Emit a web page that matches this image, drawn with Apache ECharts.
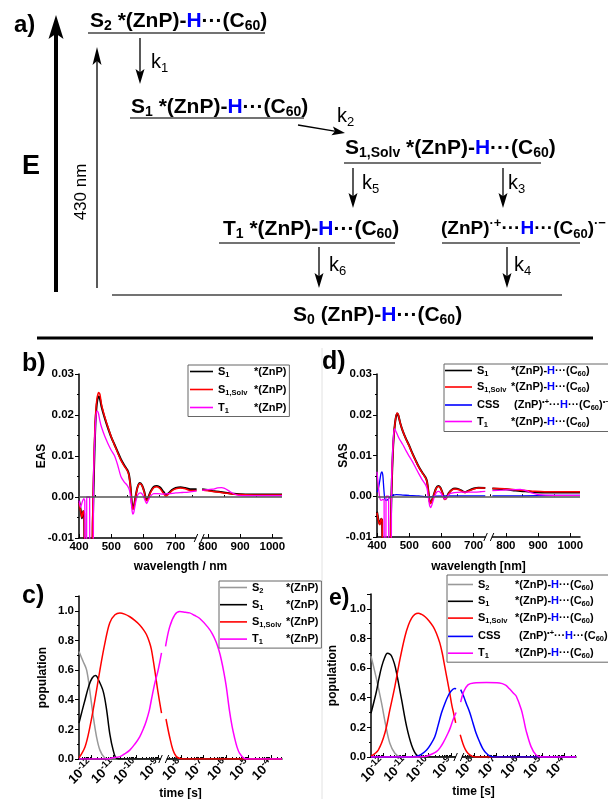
<!DOCTYPE html>
<html><head><meta charset="utf-8">
<script src="https://cdn.jsdelivr.net/npm/echarts@6/dist/echarts.min.js"></script>
<style>html,body{margin:0;padding:0;background:#fff}#c{width:608px;height:799px}</style>
</head><body><div id="c"></div>
<script>
const FONT = '"Liberation Sans", Arial, Helvetica, sans-serif';

// ===== a) energy diagram : schematic levels (x extent, schematic energy) =====
const levelKeys = ['S2','S1','S1S','T1','CSS','S0'];
const levelStart = [88,130,344,219,442,112];
const levelEnd = [265,304,541,395,580,562];
const levelEnergy = [307,222,177,97,97,45];
const arrowKeys = ['E','nm','k1','k2','k5','k3','k6','k4'];
const arrowStart = [[56,48],[97,52],[140,302],[298,215],[353,172],[503,172],[319,93],[507,93]];
const arrowEnd = [[56,325],[97,293],[140,256],[345,207],[353,132],[503,132],[319,52],[507,52]];

// ===== b) EAS  [wavelength nm, value] =====
const eas_S1 = [[400,-0.0008],[405,-0.003],[409,-0.0052],[413,-0.0035],[416,-0.004],[419,-0.02],[440,-0.02],[443,-0.006],[447,0.008],[451,0.018],[455,0.0225],[460,0.0245],[464,0.0243],[470,0.022],[480,0.0192],[490,0.0168],[500,0.0146],[510,0.0128],[520,0.011],[530,0.0092],[540,0.0078],[550,0.0066],[555,0.0055],[560,0.0025],[564,-0.0015],[567,-0.0028],[571,-0.002],[576,0.0003],[582,0.0025],[589,0.0034],[596,0.0028],[603,0.0012],[609,-0.0007],[614,-0.0003],[622,0.0013],[632,0.0025],[642,0.0027],[652,0.0023],[662,0.0013],[670,0.0006],[678,0.0009],[688,0.0017],[700,0.0022],[715,0.0024],[730,0.0022],[745,0.0019],[765,0.0019],[774,'-'],[782,0.0019],[800,0.0017],[820,0.0014],[840,0.0012],[860,0.001],[880,0.0008],[900,0.0007],[950,0.0006],[1030,0.0006]];
const eas_S1Solv = [[400,-0.0015],[404,-0.003],[409,-0.005],[413,-0.0035],[416,-0.004],[419,-0.02],[439,-0.02],[442,-0.006],[446,0.008],[450,0.018],[455,0.0235],[461,0.0255],[465,0.025],[470,0.0225],[480,0.0195],[490,0.017],[500,0.0147],[510,0.0127],[520,0.0108],[530,0.009],[540,0.0076],[550,0.0064],[555,0.0053],[560,0.0022],[564,-0.0018],[567,-0.003],[571,-0.0022],[576,0.0002],[582,0.0024],[589,0.0033],[596,0.0027],[603,0.001],[609,-0.0009],[614,-0.0005],[622,0.0011],[632,0.0023],[642,0.0025],[652,0.002],[662,0.0009],[670,0.0002],[678,0.0007],[688,0.0015],[700,0.002],[715,0.0022],[730,0.002],[745,0.0016],[765,0.0016],[774,'-'],[782,0.0017],[800,0.0015],[820,0.0013],[840,0.0011],[860,0.0009],[880,0.0007],[900,0.0006],[950,0.0005],[1030,0.0005]];
const eas_T1 = [[400,-0.0008],[405,-0.0025],[410,-0.0012],[415,-0.0004],[418,-0.001],[419,-0.03],[423,-0.03],[424,0],[433,0],[434,-0.03],[444,-0.03],[445,0.004],[448,0.012],[452,0.019],[456,0.021],[460,0.0205],[465,0.0185],[470,0.017],[480,0.0148],[490,0.013],[500,0.0114],[510,0.0101],[520,0.0078],[530,0.005],[540,0.0037],[550,0.0028],[556,0.0018],[561,-0.0005],[565,-0.0035],[567,-0.0042],[570,-0.0038],[576,-0.0012],[583,0.0006],[591,0.001],[598,0.0005],[604,-0.0006],[610,-0.0016],[615,-0.0008],[622,0.0002],[632,0.0008],[645,0.0008],[660,0.0007],[680,0.0008],[700,0.001],[720,0.0011],[740,0.0012],[765,0.0015],[774,'-'],[782,0.0016],[800,0.0018],[815,0.0019],[830,0.0022],[842,0.0023],[852,0.0021],[865,0.0015],[880,0.0008],[895,0.0004],[920,0.0003],[1030,0.0003]];
const easBreak = 773;

// ===== d) SAS =====
const sas_S1 = [[400,-0.0038],[405,-0.006],[409,-0.0068],[413,-0.0055],[416,-0.006],[418,-0.03],[440,-0.03],[443,-0.006],[447,0.006],[451,0.0135],[456,0.018],[462,0.0203],[466,0.0199],[472,0.018],[480,0.016],[490,0.0141],[500,0.0124],[510,0.0105],[520,0.0088],[530,0.0072],[540,0.0059],[550,0.0047],[555,0.0037],[559,0.0015],[563,-0.0011],[566,-0.0017],[570,-0.0011],[576,0.0003],[583,0.0019],[590,0.0025],[597,0.0021],[604,0.0007],[610,-0.0007],[615,-0.0004],[622,0.0007],[632,0.0016],[642,0.0019],[655,0.0017],[666,0.0012],[674,0.001],[684,0.0014],[700,0.0019],[715,0.0021],[736,0.002],[746,'-'],[758,0.0019],[780,0.0018],[800,0.0017],[830,0.0014],[860,0.0012],[890,0.001],[930,0.0009],[1030,0.0009]];
const sas_S1Solv = [[400,-0.004],[405,-0.0062],[409,-0.007],[413,-0.0055],[416,-0.006],[418,-0.03],[440,-0.03],[443,-0.006],[447,0.006],[451,0.0135],[456,0.018],[462,0.0204],[466,0.02],[472,0.018],[480,0.016],[490,0.014],[500,0.0123],[510,0.0104],[520,0.0087],[530,0.0071],[540,0.0058],[550,0.0046],[555,0.0036],[559,0.0014],[563,-0.0012],[566,-0.0018],[570,-0.0012],[576,0.0002],[583,0.0018],[590,0.0024],[597,0.002],[604,0.0006],[610,-0.0008],[615,-0.0005],[622,0.0006],[632,0.0015],[642,0.0018],[655,0.0016],[666,0.0011],[674,0.0009],[684,0.0013],[700,0.0018],[715,0.002],[736,0.002],[746,'-'],[758,0.0019],[780,0.0019],[800,0.0018],[830,0.0016],[860,0.0014],[890,0.0012],[920,0.0011],[960,0.0011],[1030,0.0011]];
const sas_CSS = [[400,0.001],[404,0.0018],[408,0.0035],[412,0.0055],[415,0.006],[418,0.0052],[421,0.002],[424,-0.0005],[428,-0.001],[434,-0.0008],[442,0],[450,0.0003],[460,0.0004],[480,0.0003],[500,0.0002],[530,0.0001],[560,-0.0002],[580,0],[620,0.0001],[680,0.0001],[736,0.0001],[746,'-'],[758,0.0001],[850,0.0001],[950,0.0002],[1030,0.0002]];
const sas_T1 = [[400,0.006],[403,0.0035],[406,0.0012],[409,-0.0005],[413,-0.001],[418,-0.0008],[422,-0.001],[423,-0.03],[427,-0.03],[428,0],[436,0],[437,-0.03],[444,-0.03],[445,0.003],[448,0.01],[452,0.0155],[455,0.0165],[460,0.0157],[465,0.0148],[470,0.014],[480,0.0127],[490,0.0112],[500,0.0098],[510,0.0085],[520,0.007],[530,0.0055],[540,0.0041],[550,0.0029],[555,0.002],[559,0.0],[563,-0.0022],[566,-0.0028],[570,-0.0022],[577,-0.0004],[585,0.001],[592,0.0012],[599,0.0007],[606,-0.0003],[611,-0.0007],[617,-0.0002],[626,0.0006],[640,0.0009],[660,0.001],[690,0.001],[720,0.0011],[736,0.0012],[746,'-'],[758,0.0014],[790,0.0015],[820,0.0016],[845,0.0017],[865,0.0013],[880,0.0008],[900,0.0004],[950,0.0002],[1030,0.0002]];
const sasBreak = 747;

// ===== c) populations, ZnP reference  [log10(t / s), population] =====
const popRef_S2 = [[-12.53,0.725],[-12.35,0.66],[-12.19,0.6],[-12.04,0.45],[-11.9,0.29],[-11.75,0.15],[-11.6,0.06],[-11.4,0.01],[-11.2,0],[-8.85,0],[-8.76,'-'],[-8.68,0],[-3.5,0]];
const popRef_S1 = [[-12.53,0.243],[-12.4,0.32],[-12.26,0.40],[-12.1,0.49],[-11.95,0.545],[-11.79,0.563],[-11.65,0.53],[-11.45,0.455],[-11.3,0.33],[-11.16,0.17],[-11.01,0.06],[-10.86,0.005],[-10.6,0],[-8.85,0],[-8.76,'-'],[-8.68,0],[-3.5,0]];
const popRef_S1Solv = [[-12.53,0.007],[-12.26,0.083],[-12.04,0.22],[-11.82,0.40],[-11.6,0.60],[-11.38,0.78],[-11.16,0.92],[-10.93,0.973],[-10.71,0.986],[-10.5,0.978],[-10.27,0.96],[-10.05,0.935],[-9.83,0.905],[-9.65,0.87],[-9.53,0.84],[-9.4,0.79],[-9.31,0.74],[-9.16,0.60],[-9.01,0.446],[-8.86,0.31],[-8.76,'-'],[-8.66,0.27],[-8.5,0.15],[-8.35,0.06],[-8.2,0.016],[-8.0,0.002],[-7.8,0],[-3.5,0]];
const popRef_T1 = [[-12.53,0],[-11.3,0],[-11.08,0.007],[-10.71,0.016],[-10.5,0.035],[-10.27,0.06],[-10.05,0.1],[-9.83,0.15],[-9.65,0.21],[-9.53,0.26],[-9.4,0.33],[-9.31,0.40],[-9.16,0.51],[-9.01,0.60],[-8.86,0.716],[-8.76,'-'],[-8.68,0.76],[-8.5,0.89],[-8.27,0.973],[-8.05,0.995],[-7.8,0.99],[-7.61,0.986],[-7.4,0.97],[-7.17,0.95],[-6.8,0.89],[-6.6,0.845],[-6.43,0.79],[-6.3,0.73],[-6.2,0.67],[-6.08,0.58],[-5.98,0.49],[-5.84,0.33],[-5.72,0.22],[-5.62,0.15],[-5.5,0.08],[-5.39,0.04],[-5.17,0.003],[-5.0,0],[-3.5,0]];
const popRefBreak = -8.76;

// ===== e) populations, ZnP-H...C60 =====
const pop_S2 = [[-12.53,0.68],[-12.4,0.6],[-12.28,0.52],[-12.06,0.36],[-11.87,0.205],[-11.7,0.093],[-11.48,0.025],[-11.26,0.003],[-11.0,0],[-8.78,0],[-8.68,'-'],[-8.58,0],[-3.5,0]];
const pop_S1 = [[-12.53,0.295],[-12.31,0.43],[-12.18,0.53],[-12.06,0.61],[-11.93,0.67],[-11.81,0.70],[-11.7,0.695],[-11.62,0.68],[-11.5,0.63],[-11.4,0.565],[-11.18,0.385],[-10.96,0.205],[-10.74,0.08],[-10.52,0.013],[-10.3,0],[-8.78,0],[-8.68,'-'],[-8.58,0],[-3.5,0]];
const pop_S1Solv = [[-12.53,0.005],[-12.21,0.047],[-11.92,0.16],[-11.7,0.318],[-11.48,0.475],[-11.26,0.655],[-11.04,0.81],[-10.88,0.89],[-10.74,0.937],[-10.6,0.962],[-10.45,0.97],[-10.3,0.962],[-10.16,0.948],[-9.98,0.92],[-9.79,0.88],[-9.65,0.835],[-9.5,0.77],[-9.39,0.7],[-9.28,0.61],[-9.17,0.52],[-9.06,0.43],[-8.97,0.35],[-8.89,0.295],[-8.8,0.23],[-8.68,'-'],[-8.6,0.15],[-8.48,0.09],[-8.37,0.05],[-8.26,0.025],[-8.1,0.007],[-8.0,0.002],[-7.8,0],[-3.5,0]];
const pop_CSS = [[-12.53,0],[-10.8,0],[-10.5,0.005],[-10.3,0.02],[-10.08,0.047],[-9.9,0.085],[-9.72,0.137],[-9.58,0.21],[-9.43,0.295],[-9.28,0.36],[-9.14,0.41],[-9.0,0.445],[-8.85,0.462],[-8.78,0.46],[-8.68,'-'],[-8.58,0.455],[-8.45,0.41],[-8.33,0.36],[-8.18,0.3],[-8.04,0.23],[-7.9,0.16],[-7.74,0.10],[-7.6,0.055],[-7.45,0.025],[-7.3,0.008],[-7.1,0],[-3.5,0]];
const pop_T1 = [[-12.53,0],[-10.4,0],[-10.1,0.005],[-9.85,0.02],[-9.65,0.036],[-9.5,0.06],[-9.36,0.093],[-9.14,0.16],[-9.03,0.2],[-8.92,0.25],[-8.78,0.3],[-8.68,'-'],[-8.58,0.37],[-8.45,0.44],[-8.26,0.487],[-8.0,0.5],[-7.45,0.502],[-6.87,0.5],[-6.6,0.485],[-6.43,0.46],[-6.25,0.43],[-6.13,0.41],[-5.91,0.32],[-5.8,0.25],[-5.7,0.18],[-5.48,0.07],[-5.26,0.013],[-5.0,0],[-3.5,0]];
const popBreak = -8.66;

// ===== tick labels =====
const wlTicks = [400,500,600,700,800,900,1000];
const wlMinor = [450,550,650,750,850,950];
const timeExpTicks = [-12,-11,-10,-9,-8,-7,-6,-5,-4];

// ---------------- layout / style (pixels) ----------------
const levelLabelDx = [2,1,1,4,-1,181];
const levelLabelDy = [-12,-11,-15,-14,-14,20];
const arrowWidth = [4,1.3,1.3,1.3,1.3,1.3,1.3,1.3];
const arrowHeadLen = [24,18,15,13,15,15,15,15];
const arrowHeadW = [15,9,9,9,9,9,9,9];
const arrowLabelDx = [-25,-16,11,15.5,9,5,10,7];
const arrowLabelDy = [13.5,24.5,1,-13,-5,-5,-2.5,-2.5];

const C = {S2:'#999999', S1:'#000000', S1S:'#ff0000', CSS:'#0000ff', T1:'#ff00ff'};

const diagRich = {
  m:{font:'bold 21px '+FONT, fill:'#000'},
  h:{font:'bold 21px '+FONT, fill:'#0000ff'},
  s:{font:'bold 14px '+FONT, fill:'#000', padding:[11,0,0,0]},
  p:{font:'bold 14px '+FONT, fill:'#000', padding:[0,0,11,0]},
  m2:{font:'bold 19px '+FONT, fill:'#000'},
  h2:{font:'bold 19px '+FONT, fill:'#0000ff'},
  s2:{font:'bold 13px '+FONT, fill:'#000', padding:[11,0,0,0]},
  p2:{font:'bold 13px '+FONT, fill:'#000', padding:[0,0,11,0]},
  k:{font:'20px '+FONT, fill:'#000'},
  ks:{font:'13px '+FONT, fill:'#000', padding:[12,0,0,0]},
  E:{font:'bold 27px '+FONT, fill:'#000'},
  nm:{font:'17px '+FONT, fill:'#000'}
};
const tail = '{m| *(ZnP)-}{h|H}{m|···(C}{s|60}{m|)}';
const levelLabelText = {
  S2:'{m|S}{s|2}'+tail,
  S1:'{m|S}{s|1}'+tail,
  S1S:'{m|S}{s|1,Solv}'+tail,
  T1:'{m|T}{s|1}'+tail,
  CSS:'{m2|(ZnP)}{p2|·+}{m2|···}{h2|H}{m2|···(C}{s2|60}{m2|)}{p2|·−}',
  S0:'{m|S}{s|0}{m| (ZnP)-}{h|H}{m|···(C}{s|60}{m|)}'
};
const arrowLabelText = {
  E:'{E|E}', nm:'{nm|430 nm}',
  k1:'{k|k}{ks|1}', k2:'{k|k}{ks|2}', k5:'{k|k}{ks|5}', k3:'{k|k}{ks|3}', k6:'{k|k}{ks|6}', k4:'{k|k}{ks|4}'
};

// ---------- legend text builder (measured column alignment) ----------
const mctx = document.createElement('canvas').getContext('2d');
function tw(t, px){ mctx.font = 'bold '+px+'px '+FONT; return mctx.measureText(t).width; }
let gapId = 0;
function legendRich(){
  return {
    n:{fontSize:11, fontWeight:'bold', color:'#000', fontFamily:FONT},
    h:{fontSize:11, fontWeight:'bold', color:'#0000ff', fontFamily:FONT},
    s:{fontSize:7.5, fontWeight:'bold', color:'#000', fontFamily:FONT, padding:[6,0,0,0]},
    p:{fontSize:7.5, fontWeight:'bold', color:'#000', fontFamily:FONT, padding:[0,0,6,0]}
  };
}
function legendRow(col1, col2, offset, rich){
  let w = 0, str = '';
  col1.forEach(([st,t]) => { str += '{'+st+'|'+t+'}'; w += tw(t, (st==='s'||st==='p') ? 7.5 : 11); });
  const key = 'g'+(gapId++);
  rich[key] = {width: Math.max(1, offset - w), fontSize:11, fontFamily:FONT};
  str += '{'+key+'| }';
  col2.forEach(([st,t]) => { str += '{'+st+'|'+t+'}'; });
  return str;
}
const col1 = {
  S2:[['n','S'],['s','2']], S1:[['n','S'],['s','1']], S1S:[['n','S'],['s','1,Solv']],
  T1:[['n','T'],['s','1']], CSS:[['n','CSS']]
};
const col2Short = [['n','*(ZnP)']];
const col2Full = [['n','*(ZnP)-'],['h','H'],['n','···(C'],['s','60'],['n',')']];
const col2CSS = [['n','(ZnP)'],['p','•+'],['n','···'],['h','H'],['n','···(C'],['s','60'],['n',')'],['p','•−']];

function makeLegend(prefix, keys, col2For, offset, cssOffset, pos){
  const rich = legendRich();
  const map = {};
  keys.forEach(k => { map[prefix+k] = legendRow(col1[k], col2For(k), k==='CSS'?cssOffset:offset, rich); });
  return Object.assign({
    data: keys.map(k => prefix+k), orient:'vertical', selectedMode:false,
    icon:'rect', itemHeight:1.6, borderColor:'#666', borderWidth:1, borderRadius:0, backgroundColor:'#fff',
    textStyle:{fontSize:11, fontWeight:'bold', color:'#000', fontFamily:FONT, rich},
    formatter: name => map[name]
  }, pos);
}

// ---------- axes ----------
const axisLineStyle = {color:'#000', width:1.5};
const tickStyle = {color:'#000', width:1};
const labelBase = {fontWeight:'bold', fontSize:11.5, color:'#000', fontFamily:FONT};
const nameStyle = {fontWeight:'bold', fontSize:12, color:'#000', fontFamily:FONT};

function logMinor(min, max){
  const out = [];
  for (let n = -13; n <= -4; n++) for (let k = 2; k <= 9; k++) { const v = n + Math.log10(k); if (v > min && v < max) out.push(v); }
  return out;
}
function xPair(gi, min, max, majors, minors, label, name, nameGap){
  return [
    {type:'value', gridIndex:gi, min, max, position:'bottom', name, nameLocation:'middle', nameGap, nameMoveOverlap:false, nameTextStyle:nameStyle,
     axisLine:{show:true, onZero:false, lineStyle:axisLineStyle},
     axisTick:{show:true, inside:true, length:4, customValues:majors, lineStyle:tickStyle},
     axisLabel:Object.assign({customValues:majors}, label),
     splitLine:{show:false}},
    {type:'value', gridIndex:gi, min, max, position:'bottom',
     axisLine:{show:false}, axisLabel:{show:false},
     axisTick:{show:true, inside:true, length:2, customValues:minors, lineStyle:tickStyle},
     splitLine:{show:false}}
  ];
}
function yAx(gi, min, max, interval, digits, name, nameGap, hideMax){
  return {type:'value', gridIndex:gi, min, max, interval, name, nameLocation:'middle', nameGap, nameMoveOverlap:false, nameTextStyle:nameStyle,
    axisLine:{show:true, onZero:false, lineStyle:axisLineStyle},
    axisTick:{show:true, inside:false, length:4, lineStyle:tickStyle},
    minorTick:{show:true, splitNumber:2, length:2, lineStyle:tickStyle},
    axisLabel:Object.assign({formatter: v => v.toFixed(digits), margin:5, showMaxLabel: hideMax ? false : null}, labelBase),
    splitLine:{show:false}, minorSplitLine:{show:false}};
}
const wlLabel = Object.assign({margin:3, formatter: v => String(v)}, labelBase);
const timeLabel = {margin:3, rotate:45, formatter: v => '{t|10}{e|'+v+'}',
  rich:{t:{fontSize:13, fontWeight:'bold', color:'#000', fontFamily:FONT},
        e:{fontSize:9.5, fontWeight:'bold', color:'#000', fontFamily:FONT, padding:[0,0,8,0]}}};

const xAxes = [{type:'value', gridIndex:0, min:0, max:608, show:false}]
  .concat(xPair(1, 400, 1030, wlTicks, wlMinor, wlLabel, 'wavelength / nm', 23))
  .concat(xPair(2, 400, 1030, wlTicks, wlMinor, wlLabel, 'wavelength [nm]', 24))
  .concat(xPair(3, -12.53, -3.5, timeExpTicks, logMinor(-12.53,-3.5), timeLabel, 'time [s]', 29))
  .concat(xPair(4, -12.53, -3.5, timeExpTicks, logMinor(-12.53,-3.5), timeLabel, 'time [s]', 29));
const yAxes = [
  {type:'value', gridIndex:0, min:0, max:340, show:false},
  yAx(1, -0.01, 0.03, 0.01, 2, 'EAS', 31, false),
  yAx(2, -0.01, 0.03, 0.01, 2, 'SAS', 27, false),
  yAx(3, 0, 1.1, 0.2, 1, 'population', 30, true),
  yAx(4, 0, 1.1, 0.2, 1, 'population', 32, true)
];

// ---------- series ----------
function line(name, data, color, xi, yi, width, smooth){
  return {type:'line', name, data, xAxisIndex:xi, yAxisIndex:yi, symbol:'none', showSymbol:false,
    smooth: smooth, connectNulls:false, lineStyle:{color, width}, itemStyle:{color}, emphasis:{disabled:true}};
}
function zeroLine(){
  return {silent:true, symbol:['none','none'], label:{show:false}, lineStyle:{color:'#555', width:1.5, type:'solid'}, data:[{yAxis:0}]};
}
function breakMark(xi, yi, x, y){
  return {type:'custom', xAxisIndex:xi, yAxisIndex:yi, data:[[x,y]], clip:false, z:10, silent:true,
    renderItem:(p, api) => {
      const c = api.coord([api.value(0), api.value(1)]);
      return {type:'group', children:[
        {type:'rect', shape:{x:c[0]-3, y:c[1]-2, width:6, height:4}, style:{fill:'#fff'}},
        {type:'line', shape:{x1:c[0]-5, y1:c[1]+4, x2:c[0]-1.5, y2:c[1]-4}, style:{stroke:'#000', lineWidth:1}},
        {type:'line', shape:{x1:c[0]+1.5, y1:c[1]+4, x2:c[0]+5, y2:c[1]-4}, style:{stroke:'#000', lineWidth:1}}
      ]};
    }};
}

const levelSeries = {
  type:'custom', xAxisIndex:0, yAxisIndex:0, clip:false, silent:true,
  data: levelKeys.map((k,i) => [levelStart[i], levelEnergy[i], levelEnd[i]]),
  renderItem:(p, api) => {
    const i = p.dataIndex;
    const a = api.coord([api.value(0), api.value(1)]);
    const b = api.coord([api.value(2), api.value(1)]);
    return {type:'group', children:[
      {type:'line', shape:{x1:a[0], y1:a[1], x2:b[0], y2:b[1]}, style:{stroke:'#444', lineWidth:1.5}},
      {type:'text', x:a[0]+levelLabelDx[i], y:a[1]+levelLabelDy[i],
       style:{text:levelLabelText[levelKeys[i]], rich:diagRich, align:'left', verticalAlign:'middle'}}
    ]};
  }
};
const arrowSeries = {
  type:'custom', xAxisIndex:0, yAxisIndex:0, clip:false, silent:true,
  data: arrowKeys.map((k,i) => [arrowStart[i][0], arrowStart[i][1], arrowEnd[i][0], arrowEnd[i][1]]),
  renderItem:(p, api) => {
    const i = p.dataIndex;
    const p0 = api.coord([api.value(0), api.value(1)]);
    const p1 = api.coord([api.value(2), api.value(3)]);
    const dx = p1[0]-p0[0], dy = p1[1]-p0[1], len = Math.hypot(dx,dy);
    const ux = dx/len, uy = dy/len, nx = -uy, ny = ux;
    const L = arrowHeadLen[i], W = arrowHeadW[i]/2;
    const bx = p1[0]-ux*L, by = p1[1]-uy*L;
    const key = arrowKeys[i];
    const mx = (p0[0]+p1[0])/2 + arrowLabelDx[i], my = (p0[1]+p1[1])/2 + arrowLabelDy[i];
    const isLeft = (key === 'E' || key === 'nm');
    return {type:'group', children:[
      {type:'line', shape:{x1:p0[0], y1:p0[1], x2:p1[0]-ux*L*0.7, y2:p1[1]-uy*L*0.7}, style:{stroke:'#000', lineWidth:arrowWidth[i]}},
      {type:'polygon', shape:{points:[[p1[0],p1[1]],[bx+nx*W,by+ny*W],[p1[0]-ux*L*0.78,p1[1]-uy*L*0.78],[bx-nx*W,by-ny*W]]}, style:{fill:'#000'}},
      {type:'text', x:mx, y:my, rotation: key==='nm' ? Math.PI/2 : 0,
       style:{text:arrowLabelText[key], rich:diagRich, align: isLeft ? 'center' : 'left', verticalAlign:'middle'}}
    ]};
  }
};

const series = [
  levelSeries, arrowSeries,
  // b
  Object.assign(line('bS1', eas_S1, C.S1, 1, 1, 2, 0.25), {markLine: zeroLine()}),
  line('bS1S', eas_S1Solv, C.S1S, 1, 1, 1.5, 0.25),
  line('bT1', eas_T1, C.T1, 1, 1, 1.3, 0.25),
  breakMark(1, 1, easBreak, -0.01),
  // d
  Object.assign(line('dS1', sas_S1, C.S1, 3, 2, 2, 0.25), {markLine: zeroLine()}),
  line('dS1S', sas_S1Solv, C.S1S, 3, 2, 1.5, 0.25),
  line('dCSS', sas_CSS, C.CSS, 3, 2, 1.3, 0.25),
  line('dT1', sas_T1, C.T1, 3, 2, 1.3, 0.25),
  breakMark(3, 2, sasBreak, -0.01),
  // c
  line('cS2', popRef_S2, C.S2, 5, 3, 1.5, 0.35),
  line('cS1', popRef_S1, C.S1, 5, 3, 1.5, 0.35),
  line('cS1S', popRef_S1Solv, C.S1S, 5, 3, 1.5, 0.35),
  line('cT1', popRef_T1, C.T1, 5, 3, 1.5, 0.35),
  breakMark(5, 3, popRefBreak, 0),
  // e
  line('eS2', pop_S2, C.S2, 7, 4, 1.5, 0.35),
  line('eS1', pop_S1, C.S1, 7, 4, 1.5, 0.35),
  line('eS1S', pop_S1Solv, C.S1S, 7, 4, 1.5, 0.35),
  line('eCSS', pop_CSS, C.CSS, 7, 4, 1.5, 0.35),
  line('eT1', pop_T1, C.T1, 7, 4, 1.5, 0.35),
  breakMark(7, 4, popBreak, 0)
];

const legends = [
  makeLegend('b', ['S1','S1S','T1'], () => col2Short, 36, 36, {left:188, top:365, itemWidth:23, itemGap:5.5, padding:[1,3,2,2]}),
  makeLegend('d', ['S1','S1S','CSS','T1'], k => k==='CSS' ? col2CSS : col2Full, 34, 37, {left:444, top:364, itemWidth:27, itemGap:4, padding:[1,3,3,1]}),
  makeLegend('c', ['S2','S1','S1S','T1'], () => col2Short, 34, 34, {left:219, top:581, itemWidth:27, itemGap:4.7, padding:[1,3,2,1]}),
  makeLegend('e', ['S2','S1','S1S','CSS','T1'], k => k==='CSS' ? col2CSS : col2Full, 37, 41, {left:447, top:575, itemWidth:25, itemGap:4.3, padding:[4,3,2,1]})
];

const letter = (t, x, y, fs) => ({type:'text', x, y, z:20, style:{text:t, font:'bold '+fs+'px '+FONT, fill:'#000', align:'left', verticalAlign:'middle'}});

const option = {
  animation:false, backgroundColor:'#fff', textStyle:{fontFamily:FONT},
  grid:[
    {left:0, top:0, width:608, height:340, outerBoundsMode:'none'},
    {left:79, top:374, width:203, height:164, outerBoundsMode:'none'},
    {left:377, top:374, width:203, height:163, outerBoundsMode:'none'},
    {left:79, top:596, width:203, height:163, outerBoundsMode:'none'},
    {left:371, top:594, width:205, height:163, outerBoundsMode:'none'}
  ],
  xAxis: xAxes, yAxis: yAxes, legend: legends, series,
  graphic:[
    {type:'line', shape:{x1:37, y1:338, x2:593, y2:338}, style:{stroke:'#000', lineWidth:3}},
    {type:'line', shape:{x1:322, y1:348, x2:322, y2:799}, style:{stroke:'#e2e2e2', lineWidth:1}},
    letter('a)', 14, 25, 24),
    letter('b)', 22, 364, 25), letter('c)', 22, 596, 25), letter('d)', 322, 362, 25), letter('e)', 329, 599, 23)
  ]
};
const chart = echarts.init(document.getElementById('c'), null, {renderer:'canvas'});
chart.setOption(option);
</script></body></html>
